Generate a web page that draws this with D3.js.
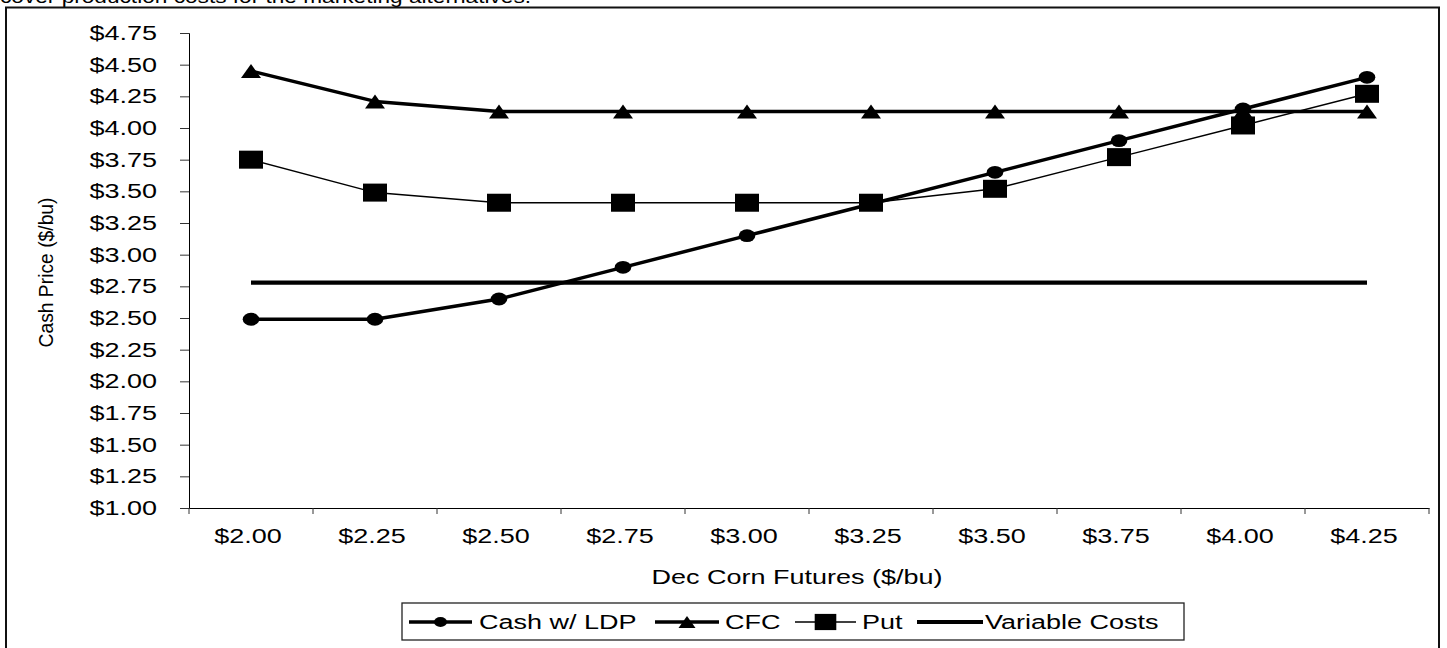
<!DOCTYPE html>
<html>
<head>
<meta charset="utf-8">
<script src="https://cdn.jsdelivr.net/npm/d3@7"></script>
<style>
  html, body { margin: 0; padding: 0; background: #fff; }
  svg { display: block; }
  text { font-family: "Liberation Sans", Arial, sans-serif; fill: #000; }
</style>
</head>
<body>
<script>
// ---- data ----
const categories = ["$2.00", "$2.25", "$2.50", "$2.75", "$3.00", "$3.25", "$3.50", "$3.75", "$4.00", "$4.25"];
const cashLDP = [2.49, 2.49, 2.65, 2.90, 3.15, 3.40, 3.65, 3.90, 4.15, 4.40];
const cfc     = [4.45, 4.21, 4.13, 4.13, 4.13, 4.13, 4.13, 4.13, 4.13, 4.13];
const put     = [3.75, 3.49, 3.41, 3.41, 3.41, 3.41, 3.52, 3.77, 4.02, 4.27];
const varCost = [2.78, 2.78, 2.78, 2.78, 2.78, 2.78, 2.78, 2.78, 2.78, 2.78];
const yTicks  = [1.00, 1.25, 1.50, 1.75, 2.00, 2.25, 2.50, 2.75, 3.00, 3.25, 3.50, 3.75, 4.00, 4.25, 4.50, 4.75];
const seriesNames = ["Cash w/ LDP", "CFC", "Put", "Variable Costs"];
const topText = "cover production costs for the marketing alternatives.";
const xTitle = "Dec Corn Futures ($/bu)";
const yTitle = "Cash Price ($/bu)";

// ---- layout ----
const W = 1447, H = 648;
const SX = 1.4;       // horizontal stretch of glyphs in the reference
const FS = 19.3;
const plot = { left: 189, right: 1429, top: 33, bottom: 508 };

const svg = d3.select("body").append("svg").attr("width", W).attr("height", H);

const x = d3.scaleBand().domain(categories).range([plot.left, plot.right]);
const y = d3.scaleLinear().domain([1, 4.75]).range([plot.bottom, plot.top]);
const cx = c => x(c) + x.bandwidth() / 2;

function stext(g, tx, ty, str, anchor, opts = {}) {
  return g.append("text")
    .attr("transform", `translate(${tx},${ty}) scale(${opts.sx || SX},1)` + (opts.rot ? ` rotate(${opts.rot})` : ""))
    .attr("text-anchor", anchor)
    .attr("font-size", opts.fs || FS)
    .text(str);
}

// top cut-off paragraph text
svg.append("text")
  .attr("x", 0).attr("y", 2.5)
  .attr("font-family", "'Liberation Serif', 'Times New Roman', serif")
  .attr("font-size", 19)
  .attr("textLength", 531).attr("lengthAdjust", "spacingAndGlyphs")
  .text(topText);

// outer frame
svg.append("rect")
  .attr("x", 6).attr("y", 7.5).attr("width", 1433).attr("height", 660)
  .attr("fill", "none").attr("stroke", "#111").attr("stroke-width", 2);

// ---- axes ----
const yAxis = d3.axisLeft(y).tickValues(yTicks).tickSize(9).tickPadding(0).tickFormat(() => "");
const gy = svg.append("g").attr("transform", `translate(${plot.left},0)`).call(yAxis);
gy.select(".domain").attr("stroke", "#000").attr("stroke-width", 1);
gy.selectAll(".tick line").attr("stroke", "#333");
yTicks.forEach(v => stext(svg, 157, y(v) + 7, "$" + v.toFixed(2), "end"));

const xAxis = d3.axisBottom(x).tickSize(0).tickFormat(() => "");
const gx = svg.append("g").attr("transform", `translate(0,${plot.bottom})`).call(xAxis);
gx.select(".domain").attr("stroke", "#000").attr("stroke-width", 1);
// category boundary ticks
const bounds = categories.map(c => x(c)).concat([plot.right]);
gx.selectAll("line.bt").data(bounds).enter().append("line")
  .attr("class", "bt")
  .attr("x1", d => d).attr("x2", d => d).attr("y1", 0).attr("y2", 6)
  .attr("stroke", "#333");
categories.forEach(c => stext(svg, cx(c) - 3, 543, c, "middle"));

stext(svg, 797, 584, xTitle, "middle");
stext(svg, 53, 272.5, yTitle, "middle", { sx: 1, rot: -90 });
// y title: rotate then stretch vertically the glyph heights
svg.select("text:last-of-type").attr("transform", `translate(53,272.5) scale(${SX},1) rotate(-90)`)
  .attr("dy", "0.35em");

// ---- series ----
const line = d3.line().x((d, i) => cx(categories[i])).y(d => y(d));

function drawSeries(vals, width, marker) {
  const g = svg.append("g");
  g.append("path").datum(vals).attr("d", line)
    .attr("fill", "none").attr("stroke", "#000").attr("stroke-width", width)
    .attr("stroke-linejoin", "round");
  if (marker) {
    vals.forEach((v, i) => marker(g, cx(categories[i]), y(v), 1));
  }
}
function circleM(g, px, py, s) {
  g.append("ellipse").attr("cx", px).attr("cy", py).attr("rx", 8.3 * s).attr("ry", 6.4 * s).attr("fill", "#000");
}
function triM(g, px, py, s) {
  const w = 10 * s, h = 14 * s;
  g.append("path").attr("d", `M${px - w},${py + h / 2}L${px + w},${py + h / 2}L${px},${py - h / 2}Z`).attr("fill", "#000");
}
function sqM(g, px, py, s) {
  const w = 24 * s, h = 18 * s;
  g.append("rect").attr("x", px - w / 2).attr("y", py - h / 2).attr("width", w).attr("height", h).attr("fill", "#000");
}

drawSeries(cashLDP, 3.5, circleM);
drawSeries(cfc, 3.5, triM);
drawSeries(put, 1.5, sqM);
drawSeries(varCost, 4.2, null);

// ---- legend ----
const lg = svg.append("g");
lg.append("rect").attr("x", 402).attr("y", 603).attr("width", 782).attr("height", 37)
  .attr("fill", "#fff").attr("stroke", "#222").attr("stroke-width", 1.3);
const ly = 622;
const items = [
  { name: seriesNames[0], x1: 409, x2: 472, w: 3.5, m: circleM, s: 0.78, tx: 479 },
  { name: seriesNames[1], x1: 655, x2: 719, w: 3.5, m: triM, s: 0.85, tx: 725 },
  { name: seriesNames[2], x1: 795, x2: 856, w: 1.5, m: sqM, s: 0.9, tx: 862 },
  { name: seriesNames[3], x1: 917, x2: 983, w: 4.2, m: null, s: 1, tx: 985 }
];
items.forEach(it => {
  lg.append("line").attr("x1", it.x1).attr("x2", it.x2).attr("y1", ly).attr("y2", ly)
    .attr("stroke", "#000").attr("stroke-width", it.w);
  if (it.m) it.m(lg, (it.x1 + it.x2) / 2, ly, it.s);
  stext(lg, it.tx, ly + 7, it.name, "start");
});
</script>
</body>
</html>
